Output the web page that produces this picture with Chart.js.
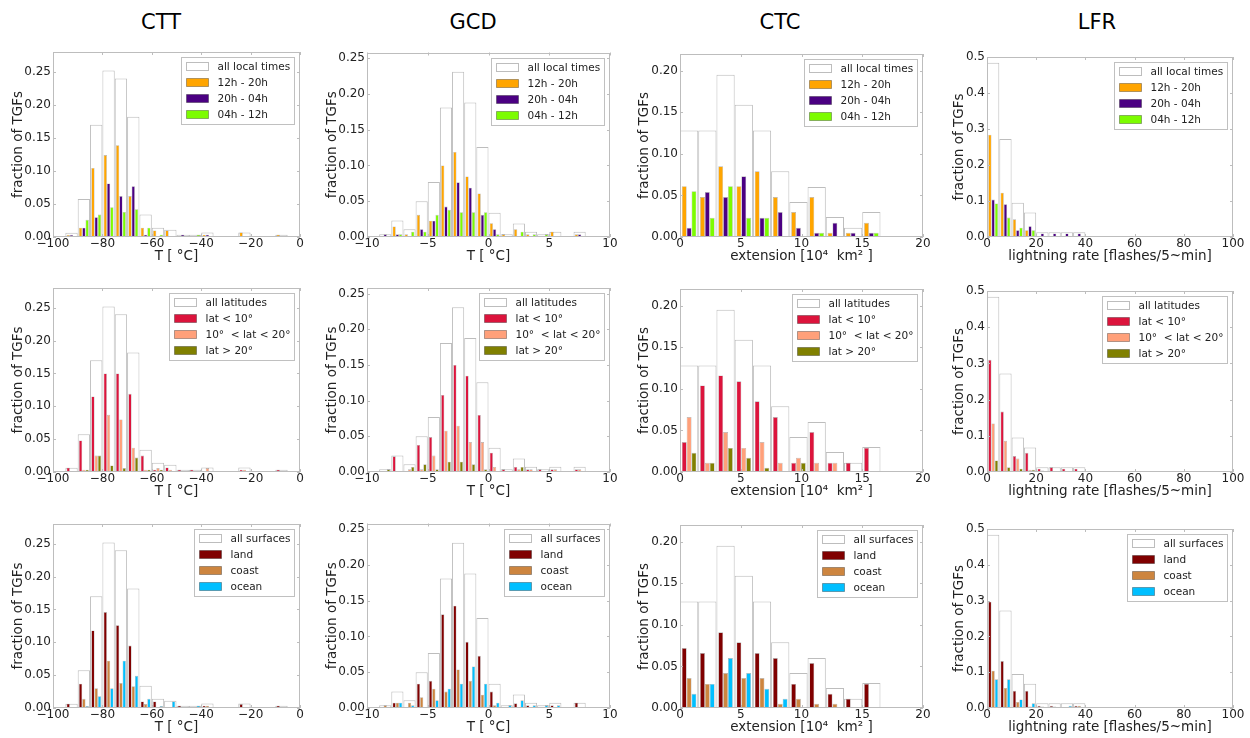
<!DOCTYPE html>
<html>
<head>
<meta charset="utf-8">
<script src="https://cdn.jsdelivr.net/npm/chart.js@4.4.1/dist/chart.umd.min.js"></script>
<style>
  html, body { margin:0; padding:0; background:#fff; }
  body { width:1250px; height:738px; position:relative; overflow:hidden; font-family:'DejaVu Sans', sans-serif; }
  canvas { position:absolute; }
  .ttl { position:absolute; top:9px; font-size:21px; line-height:26px; color:#000; transform:translateX(-50%); white-space:nowrap; }
</style>
</head>
<body>
<div class="ttl" style="left:161px">CTT</div>
<div class="ttl" style="left:473px">GCD</div>
<div class="ttl" style="left:780px">CTC</div>
<div class="ttl" style="left:1097px">LFR</div>
<script>
// ---------------- bin centres ----------------
const cttBins = [-97.5,-92.5,-87.5,-82.5,-77.5,-72.5,-67.5,-62.5,-57.5,-52.5,-47.5,-42.5,-37.5,-32.5,-27.5,-22.5,-17.5,-12.5,-7.5,-2.5];
const gcdBins = [-9.5,-8.5,-7.5,-6.5,-5.5,-4.5,-3.5,-2.5,-1.5,-0.5,0.5,1.5,2.5,3.5,4.5,5.5,6.5,7.5,8.5,9.5];
const ctcBins = [0.75,2.25,3.75,5.25,6.75,8.25,9.75,11.25,12.75,14.25,15.75];
const lfrBins = [2.5,7.5,12.5,17.5,22.5,27.5,32.5,37.5,42.5,47.5,52.5,57.5,62.5];

// ---------------- series labels ----------------
const timeLabels = ['all local times','12h - 20h','20h - 04h','04h - 12h'];
const latLabels = ['all latitudes','lat < 10°','10°  < lat < 20°','lat > 20°'];
const surfLabels = ['all surfaces','land','coast','ocean'];

// ---------------- CTT ----------------
const cttAll     = [0,0.0066,0.0576,0.170,0.252,0.240,0.182,0.034,0.014,0.011,0.0035,0.0035,0.007,0,0,0.007,0,0,0.0035,0];
const cttDay     = [0,0.0033,0.014,0.1045,0.124,0.139,0.062,0.014,0.010,0.010,0,0,0.0035,0,0,0.007,0,0,0.0035,0];
const cttNight   = [0,0.0033,0.014,0.030,0.081,0.062,0.077,0.0035,0,0,0.0035,0,0.0035,0,0,0,0,0,0,0];
const cttMorning = [0,0,0.026,0.034,0.045,0.038,0.042,0.014,0.0035,0,0,0.0035,0,0,0,0,0,0,0,0];
const cttLatLow  = [0,0.0066,0.048,0.115,0.150,0.150,0.119,0.025,0.0035,0.007,0.0035,0.0035,0,0,0,0.0035,0,0,0.0035,0];
const cttLatMid  = [0,0,0.0035,0.025,0.087,0.080,0.037,0.0035,0.006,0.0035,0,0,0.006,0,0,0.0035,0,0,0,0];
const cttLatHigh = [0,0,0.0035,0.025,0.010,0.006,0.022,0.0035,0.0035,0,0,0,0,0,0,0,0,0,0,0];
const cttLand    = [0,0.0066,0.037,0.118,0.146,0.126,0.095,0.010,0.010,0,0.0035,0,0.0035,0,0,0.006,0,0,0.0035,0];
const cttCoast   = [0,0,0.014,0.030,0.072,0.038,0.033,0.006,0,0,0,0,0.0035,0,0,0,0,0,0,0];
const cttOcean   = [0,0,0.003,0.018,0.030,0.072,0.049,0.014,0.003,0.010,0,0.0035,0,0,0,0,0,0,0,0];

// ---------------- GCD ----------------
const gcdAll     = [0,0.0037,0.023,0.011,0.050,0.077,0.181,0.231,0.188,0.126,0.034,0.0037,0.019,0.0074,0.0037,0.0074,0,0.0074,0,0];
const gcdDay     = [0,0,0.0148,0.0037,0.031,0.0227,0.100,0.119,0.0847,0.061,0.0194,0.0037,0.011,0.0037,0,0.0074,0,0.0037,0,0];
const gcdNight   = [0,0.0037,0.0037,0,0.011,0.0227,0.0426,0.0764,0.069,0.031,0.011,0,0,0,0,0,0,0.0037,0,0];
const gcdMorning = [0,0,0.0037,0.0074,0.0074,0.031,0.038,0.0347,0.0347,0.0347,0.0037,0,0.0074,0.0037,0.0037,0,0,0,0,0];
const gcdLatLow  = [0,0,0.022,0,0.038,0.049,0.108,0.150,0.135,0.080,0.027,0.0037,0.007,0.0037,0.0037,0.0037,0,0.0037,0,0];
const gcdLatMid  = [0,0,0,0.0037,0.0037,0.023,0.058,0.065,0.042,0.042,0.007,0,0.0037,0.0037,0,0.0037,0,0.0037,0,0];
const gcdLatHigh = [0,0.0037,0,0.007,0.0107,0.0037,0.0144,0.0144,0.0107,0.0037,0,0,0.007,0,0,0,0,0,0,0];
const gcdLand    = [0,0,0.0074,0,0.034,0.038,0.131,0.143,0.0925,0.073,0.023,0,0.0065,0.0037,0,0.0037,0,0.0074,0,0];
const gcdCoast   = [0,0.0037,0.0074,0.0074,0.015,0.027,0.023,0.054,0.038,0.0187,0.0037,0,0,0,0,0,0,0,0,0];
const gcdOcean   = [0,0,0.0074,0.0037,0,0.0107,0.027,0.034,0.058,0.034,0.0074,0.0037,0.0107,0.0037,0.0037,0.0037,0,0,0,0];

// ---------------- CTC ----------------
const ctcAll     = [0.128,0.128,0.195,0.159,0.128,0.079,0.042,0.060,0.024,0.011,0.030];
const ctcDay     = [0.061,0.048,0.085,0.061,0.079,0.048,0.030,0.048,0.005,0.005,0.017];
const ctcNight   = [0.011,0.054,0.048,0.073,0.023,0.030,0.011,0.005,0.017,0.005,0.005];
const ctcMorning = [0.055,0.023,0.061,0.023,0.023,0,0,0.005,0,0,0.005];
const ctcLatLow  = [0.036,0.104,0.116,0.109,0.085,0.066,0.011,0.048,0.011,0.011,0.029];
const ctcLatMid  = [0.066,0.011,0.048,0.029,0.036,0.011,0.017,0.011,0.011,0,0];
const ctcLatHigh = [0.023,0.011,0.029,0.017,0.005,0,0.011,0,0,0,0];
const ctcLand    = [0.072,0.066,0.091,0.079,0.066,0.060,0.029,0.054,0.017,0.011,0.029];
const ctcCoast   = [0.036,0.029,0.042,0.036,0.036,0.005,0.011,0.005,0.005,0,0];
const ctcOcean   = [0.017,0.029,0.060,0.042,0.023,0.011,0,0,0,0,0];

// ---------------- LFR ----------------
const lfrAll     = [0.484,0.272,0.095,0.068,0.013,0.013,0.013,0.013,0.003,0,0,0,0.003];
const lfrDay     = [0.284,0.123,0.049,0.019,0,0.003,0.003,0,0,0,0,0,0];
const lfrNight   = [0.104,0.091,0.019,0.030,0.010,0.010,0.010,0.010,0,0,0,0,0];
const lfrMorning = [0.093,0.054,0.026,0.019,0.003,0,0,0.003,0.003,0,0,0,0.003];
const lfrLatLow  = [0.310,0.167,0.044,0.053,0.009,0.013,0.009,0.009,0,0,0,0,0.003];
const lfrLatMid  = [0.134,0.086,0.037,0.006,0.004,0,0,0,0,0,0,0,0];
const lfrLatHigh = [0.032,0.013,0.009,0.006,0,0,0.003,0.003,0.003,0,0,0,0];
const lfrLand    = [0.297,0.131,0.048,0.048,0.006,0.006,0.003,0.006,0,0,0,0,0.003];
const lfrCoast   = [0.104,0.056,0.017,0.004,0.004,0.004,0.003,0.006,0.003,0,0,0,0];
const lfrOcean   = [0.080,0.080,0.024,0.013,0,0.003,0.006,0,0,0,0,0,0];

// ---------------- styling / layout ----------------
const FONT = "'DejaVu Sans', sans-serif";
const timeColors = ['#FFA500','#4B0082','#7CFC00'];
const latColors  = ['#DC143C','#FFA07A','#808000'];
const surfColors = ['#800000','#CD853F','#00BFFF'];

const AXES = [
  {xmin:-100, xmax:0,  xstep:20, ymax:0.28,  ystep:0.05, dec:2, xTitle:'T [ °C]'},
  {xmin:-10,  xmax:10, xstep:5,  ymax:0.258, ystep:0.05, dec:2, xTitle:'T [ °C]'},
  {xmin:0,    xmax:20, xstep:5,  ymax:0.22,  ystep:0.05, dec:2, xTitle:'extension [10⁴  km² ]'},
  {xmin:0,    xmax:100,xstep:20, ymax:0.5,   ystep:0.1,  dec:1, xTitle:'lightning rate [flashes/5~min]'}
];
const COLS = [
  {cx:0,   cw:310, pl:53,  pr:300,  yto:34.5},
  {cx:310, cw:310, pl:367, pr:610,  yto:34.5},
  {cx:620, cw:315, pl:680, pr:923,  yto:35.5},
  {cx:935, cw:315, pl:987, pr:1233, yto:28}
];
const ROWS = [
  {cy:40,  ch:230, top:[52,52.5,54,57],   bottom:237},
  {cy:270, ch:235, top:[288,288,289,291], bottom:472},
  {cy:505, ch:233, top:[524,523.5,525,529], bottom:708}
];

const PANELS = [
  {row:0,col:0,bins:cttBins,all:cttAll,series:[cttDay,cttNight,cttMorning],labels:timeLabels,colors:timeColors},
  {row:0,col:1,bins:gcdBins,all:gcdAll,series:[gcdDay,gcdNight,gcdMorning],labels:timeLabels,colors:timeColors},
  {row:0,col:2,bins:ctcBins,all:ctcAll,series:[ctcDay,ctcNight,ctcMorning],labels:timeLabels,colors:timeColors},
  {row:0,col:3,bins:lfrBins,all:lfrAll,series:[lfrDay,lfrNight,lfrMorning],labels:timeLabels,colors:timeColors},
  {row:1,col:0,bins:cttBins,all:cttAll,series:[cttLatLow,cttLatMid,cttLatHigh],labels:latLabels,colors:latColors},
  {row:1,col:1,bins:gcdBins,all:gcdAll,series:[gcdLatLow,gcdLatMid,gcdLatHigh],labels:latLabels,colors:latColors},
  {row:1,col:2,bins:ctcBins,all:ctcAll,series:[ctcLatLow,ctcLatMid,ctcLatHigh],labels:latLabels,colors:latColors},
  {row:1,col:3,bins:lfrBins,all:lfrAll,series:[lfrLatLow,lfrLatMid,lfrLatHigh],labels:latLabels,colors:latColors},
  {row:2,col:0,bins:cttBins,all:cttAll,series:[cttLand,cttCoast,cttOcean],labels:surfLabels,colors:surfColors},
  {row:2,col:1,bins:gcdBins,all:gcdAll,series:[gcdLand,gcdCoast,gcdOcean],labels:surfLabels,colors:surfColors},
  {row:2,col:2,bins:ctcBins,all:ctcAll,series:[ctcLand,ctcCoast,ctcOcean],labels:surfLabels,colors:surfColors},
  {row:2,col:3,bins:lfrBins,all:lfrAll,series:[lfrLand,lfrCoast,lfrOcean],labels:surfLabels,colors:surfColors}
];

// frame, inward ticks and in-axes legend
const framePlugin = {
  id: 'tgfFrame',
  afterDatasetsDraw(chart) {
    const {ctx, chartArea: a, scales} = chart;
    ctx.save();
    ctx.strokeStyle = '#bdbdbd';
    ctx.lineWidth = 1;
    ctx.beginPath();
    scales.x.ticks.forEach(t => {
      const px = Math.round(scales.x.getPixelForValue(t.value)) + 0.5;
      ctx.moveTo(px, a.bottom); ctx.lineTo(px, a.bottom - 3);
      ctx.moveTo(px, a.top);    ctx.lineTo(px, a.top + 3);
    });
    scales.y.ticks.forEach(t => {
      const py = Math.round(scales.y.getPixelForValue(t.value)) + 0.5;
      ctx.moveTo(a.left, py);  ctx.lineTo(a.left + 3, py);
      ctx.moveTo(a.right, py); ctx.lineTo(a.right - 3, py);
    });
    ctx.stroke();
    const l = Math.round(a.left) + 0.5, t = Math.round(a.top) + 0.5;
    const r = Math.round(a.right) - 0.5, b = Math.round(a.bottom) - 0.5;
    ctx.strokeRect(l, t, r - l, b - t);
    ctx.restore();
  },
  afterDraw(chart) {
    const {ctx, chartArea: a} = chart;
    const ds = chart.data.datasets;
    ctx.save();
    ctx.font = '10.5px ' + FONT;
    const tw = Math.max(...ds.map(d => ctx.measureText(d.label).width));
    const bw = Math.round(5 + 22 + 9 + tw + 4), bh = 67;
    const x0 = Math.round(a.right - 6 - bw) + 0.5, y0 = Math.round(a.top + 5) + 0.5;
    ctx.fillStyle = '#fff';
    ctx.fillRect(x0, y0, bw, bh);
    ctx.strokeStyle = '#c0c0c0'; ctx.lineWidth = 1;
    ctx.strokeRect(x0, y0, bw, bh);
    ds.forEach((d, i) => {
      const cy = y0 + 9 + i * 16;
      ctx.fillStyle = d.backgroundColor;
      ctx.fillRect(x0 + 5, cy - 4, 22, 8);
      ctx.strokeStyle = i === 0 ? '#bdbdbd' : 'rgba(0,0,0,0.3)';
      ctx.lineWidth = 1;
      ctx.strokeRect(x0 + 5, cy - 4, 22, 8);
      ctx.fillStyle = '#222';
      ctx.textBaseline = 'middle';
      ctx.textAlign = 'left';
      ctx.fillText(d.label, x0 + 36, cy + 0.5);
    });
    ctx.restore();
  }
};

function makeChart(p) {
  const col = COLS[p.col], row = ROWS[p.row], ax = AXES[p.col];
  const cx = col.cx, cw = col.cw, cy = row.cy, ch = row.ch;
  const pl = col.pl, pr = col.pr, pt = row.top[p.col], pb = row.bottom;
  const canvas = document.createElement('canvas');
  canvas.width = cw; canvas.height = ch;
  canvas.style.left = cx + 'px'; canvas.style.top = cy + 'px';
  canvas.style.width = cw + 'px'; canvas.style.height = ch + 'px';
  document.body.appendChild(canvas);

  const titleSize = 13.5;
  const titleHalf = titleSize * 1.2 / 2;
  const padLeft = (pl - col.yto) - cx - titleHalf;
  const yW = pl - cx - padLeft;
  const xH = 28;
  const pad = {left: padLeft, right: cx + cw - pr, top: pt - cy, bottom: cy + ch - pb - xH};

  const pts = vals => p.bins.map((b, i) => ({x: b, y: vals[i]}));
  // "all" outline: not grouped, so it spans the whole bin; drawn behind (order 1)
  const datasets = [{
    label: p.labels[0], data: pts(p.all),
    backgroundColor: '#ffffff', borderColor: '#bdbdbd', borderWidth: 1, order: 1,
    grouped: false, categoryPercentage: 1, barPercentage: 1, inflateAmount: 0
  }];
  p.series.forEach((s, i) => datasets.push({
    label: p.labels[i + 1], data: pts(s),
    backgroundColor: p.colors[i], borderColor: 'rgba(0,0,0,0.3)', borderWidth: 0.6, order: 0,
    grouped: true, categoryPercentage: 0.8, barPercentage: 1, inflateAmount: 0
  }));

  const tickFont = {family: FONT, size: 12};
  const titleFont = {family: FONT, size: titleSize};
  new Chart(canvas, {
    type: 'bar',
    data: {datasets},
    options: {
      responsive: false, animation: false, events: [], devicePixelRatio: 1,
      layout: {padding: pad},
      plugins: {legend: {display: false}, tooltip: {enabled: false}},
      scales: {
        x: {
          type: 'linear', position: 'bottom', min: ax.xmin, max: ax.xmax, offset: false,
          grid: {display: false, drawTicks: false, offset: false}, border: {display: false},
          ticks: {stepSize: ax.xstep, padding: 0, autoSkip: false, maxRotation: 0, color: '#222', font: tickFont,
                  callback: v => String(v).replace('-', '\u2212')},
          title: {display: true, text: ax.xTitle, color: '#222', font: titleFont, padding: 0},
          afterFit: s => { s.height = xH; }
        },
        y: {
          type: 'linear', position: 'left', min: 0, max: ax.ymax,
          grid: {display: false, drawTicks: false}, border: {display: false},
          ticks: {stepSize: ax.ystep, includeBounds: false, padding: 2, color: '#222', font: tickFont,
                  callback: v => v.toFixed(ax.dec)},
          title: {display: true, text: 'fraction of TGFs', color: '#222', font: titleFont, padding: 0},
          afterFit: s => { s.width = yW; }
        }
      }
    },
    plugins: [framePlugin]
  });
}

PANELS.forEach(makeChart);
</script>
</body>
</html>
